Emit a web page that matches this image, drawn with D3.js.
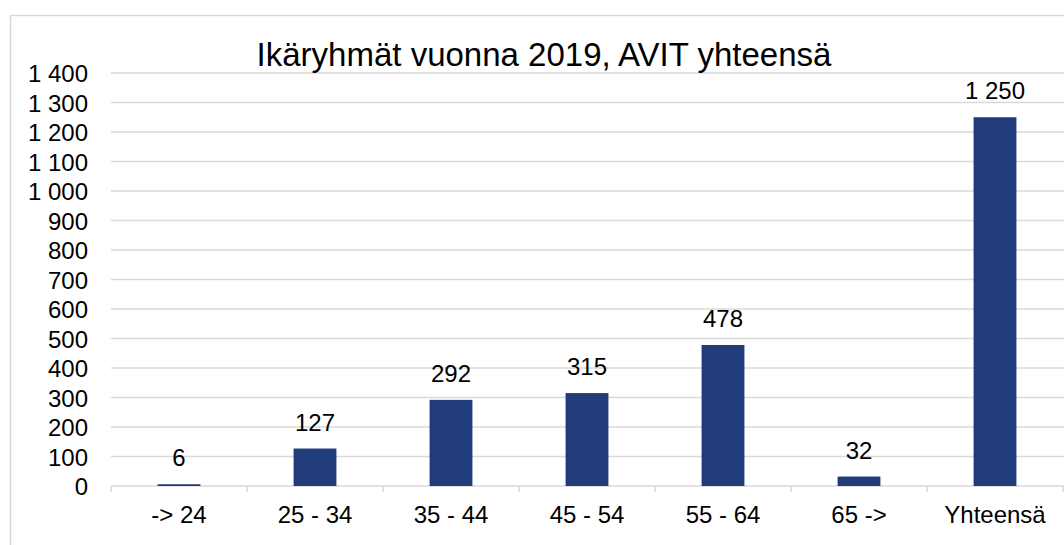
<!DOCTYPE html>
<html>
<head>
<meta charset="utf-8">
<script src="https://cdn.jsdelivr.net/npm/d3@7"></script>
<style>
  html, body { margin: 0; padding: 0; background: #fff; }
  svg { display: block; font-family: "Liberation Sans", Arial, sans-serif; }
</style>
</head>
<body>
<svg id="chart" width="1064" height="545"></svg>
<script>
const categories = ["-> 24", "25 - 34", "35 - 44", "45 - 54", "55 - 64", "65 ->", "Yhteensä"];
const values = [6, 127, 292, 315, 478, 32, 1250];
const yTicks = [0, 100, 200, 300, 400, 500, 600, 700, 800, 900, 1000, 1100, 1200, 1300, 1400];
const titleText = "Ikäryhmät vuonna 2019, AVIT yhteensä";

const W = 1064, H = 545;
const margin = { top: 73, right: 1, bottom: 59, left: 111 };

const svg = d3.select("#chart");

// kehys
svg.append("rect")
  .attr("x", 10.5).attr("y", 15.5)
  .attr("width", W + 20).attr("height", H + 20)
  .attr("fill", "none")
  .attr("stroke", "#d9d9d9")
  .attr("stroke-width", 1.5);

const x = d3.scaleBand()
  .domain(categories)
  .range([margin.left, W - margin.right])
  .paddingInner(0.685)
  .paddingOuter(0.3425);

const y = d3.scaleLinear()
  .domain([0, 1400])
  .range([H - margin.bottom, margin.top]);

const fmt = v => d3.format(",")(v).replace(/,/g, " ");

// vaakaviivat
svg.append("g")
  .selectAll("line")
  .data(yTicks.filter(t => t > 0))
  .enter()
  .append("line")
  .attr("x1", margin.left).attr("x2", W)
  .attr("y1", d => y(d)).attr("y2", d => y(d))
  .attr("stroke", "#d9d9d9")
  .attr("stroke-width", 1.5);

// y-akselin tekstit
svg.append("g")
  .selectAll("text")
  .data(yTicks)
  .enter()
  .append("text")
  .attr("x", 88)
  .attr("y", d => y(d) + 9)
  .attr("text-anchor", "end")
  .style("font-size", "24px")
  .attr("fill", "#000")
  .text(fmt);

// x-akseli
const xAxis = d3.axisBottom(x).tickSize(0).tickFormat("");
const gx = svg.append("g")
  .attr("transform", `translate(0,${y(0)})`)
  .call(xAxis);
gx.select(".domain").attr("stroke", "#d9d9d9").attr("stroke-width", 1.5)
  .attr("d", `M${margin.left},0H${W}`);

// kategorioiden rajat
const step = x.step();
svg.append("g")
  .selectAll("line")
  .data(d3.range(categories.length + 1))
  .enter()
  .append("line")
  .attr("x1", i => margin.left + i * step)
  .attr("x2", i => margin.left + i * step)
  .attr("y1", y(0)).attr("y2", y(0) + 6)
  .attr("stroke", "#d9d9d9")
  .attr("stroke-width", 1.5);

// pylväät
svg.append("g")
  .selectAll("rect")
  .data(values)
  .enter()
  .append("rect")
  .attr("x", (d, i) => x(categories[i]))
  .attr("width", x.bandwidth())
  .attr("y", d => y(d))
  .attr("height", d => y(0) - y(d))
  .attr("fill", "#213c7b");

// arvot
svg.append("g")
  .selectAll("text")
  .data(values)
  .enter()
  .append("text")
  .attr("x", (d, i) => x(categories[i]) + x.bandwidth() / 2)
  .attr("y", d => y(d) - 18)
  .attr("text-anchor", "middle")
  .style("font-size", "24px")
  .attr("fill", "#000")
  .text(fmt);

// kategoriat
svg.append("g")
  .selectAll("text")
  .data(categories)
  .enter()
  .append("text")
  .attr("x", d => x(d) + x.bandwidth() / 2)
  .attr("y", y(0) + 37)
  .attr("text-anchor", "middle")
  .style("font-size", "24px")
  .attr("fill", "#000")
  .text(d => d);

// otsikko
svg.append("text")
  .attr("x", 544)
  .attr("y", 66)
  .attr("text-anchor", "middle")
  .style("font-size", "33px")
  .attr("fill", "#000")
  .text(titleText);
</script>
</body>
</html>
